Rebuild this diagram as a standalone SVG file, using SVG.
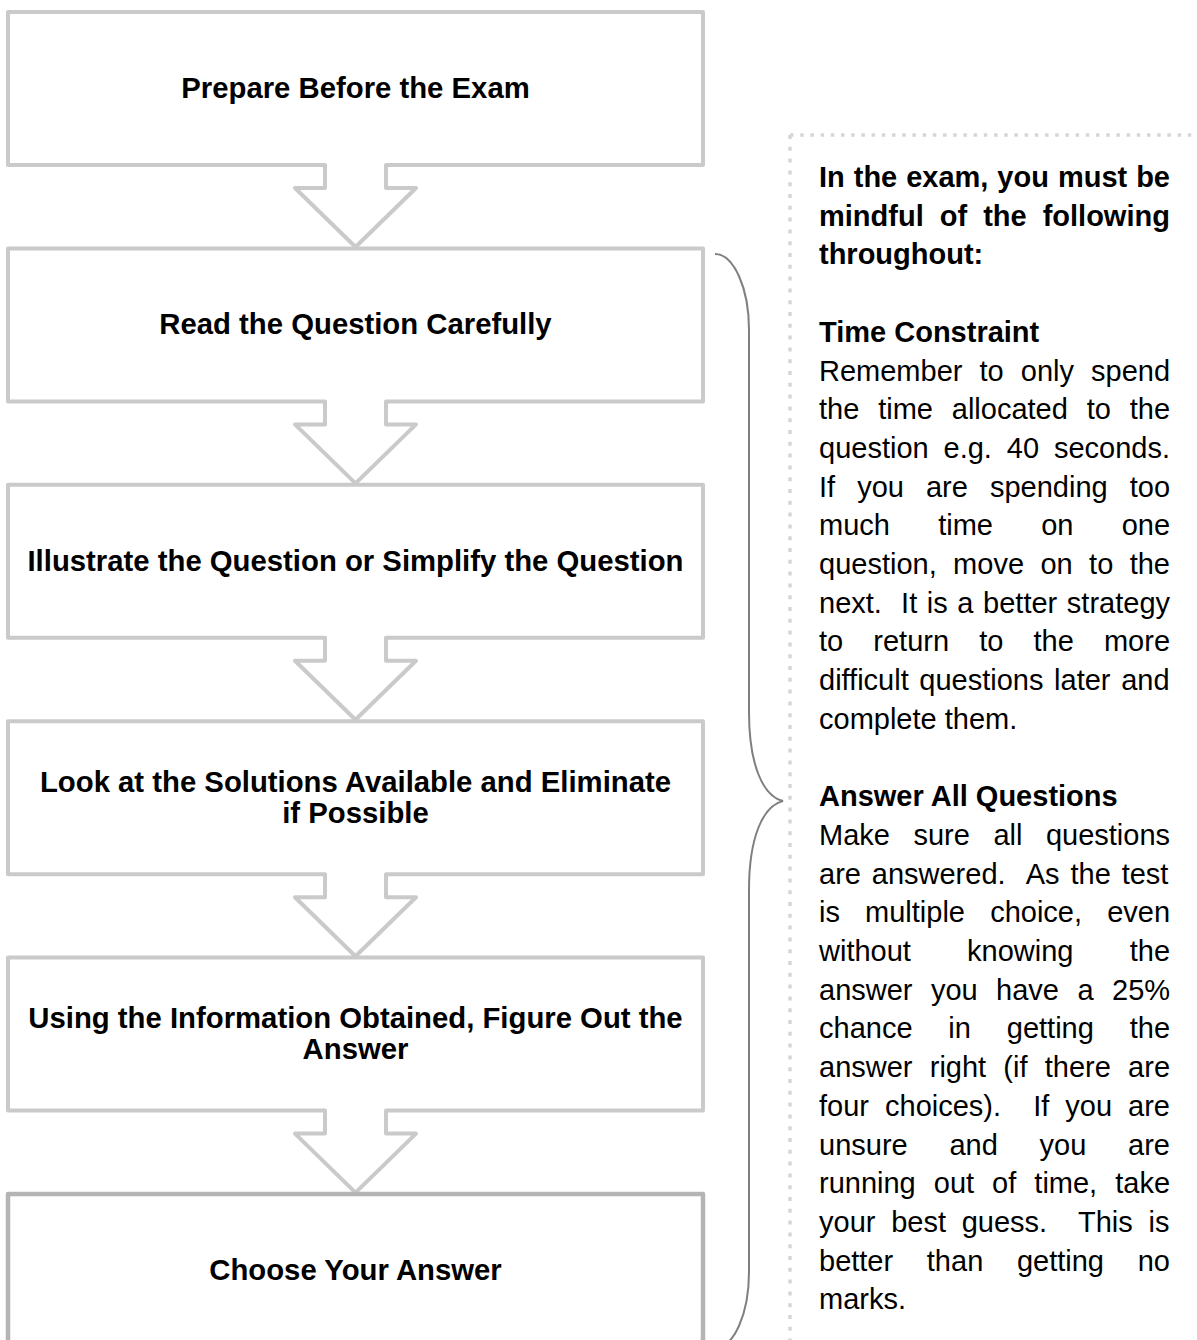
<svg xmlns="http://www.w3.org/2000/svg" width="1197" height="1340" viewBox="0 0 1197 1340">
<style>
.box{fill:#ffffff;stroke:#cacaca;stroke-width:4;stroke-linejoin:round;stroke-linecap:round}
.last{fill:#ffffff;stroke:#b4b4b4;stroke-width:4.5;stroke-linejoin:round}
.arr{fill:none;stroke:#cacaca;stroke-width:4;stroke-linejoin:round;stroke-linecap:round}
.lbl{font-family:"Liberation Sans",Arial,sans-serif;font-weight:bold;font-size:29.3px;fill:#000;text-anchor:middle}
.p{font-family:"Liberation Sans",Arial,sans-serif;font-size:29px;fill:#000;white-space:pre}
.b{font-weight:bold}
.dh{stroke:#d6d6d6;stroke-width:3.5;stroke-dasharray:3.5 6.7;fill:none}
.dv{stroke:#d6d6d6;stroke-width:3.5;stroke-dasharray:4 7.8;fill:none}
.brace{fill:none;stroke:#7f7f7f;stroke-width:2}
</style>
<rect width="1197" height="1340" fill="#ffffff"/>

<g id="connectors">
<path class="arr" d="M325,165 V188 H295 L355.5,247 L416,188 H386 V165"/>
<path class="arr" d="M325,401.4 V424.4 H295 L355.5,483.4 L416,424.4 H386 V401.4"/>
<path class="arr" d="M325,637.8 V660.8 H295 L355.5,719.8 L416,660.8 H386 V637.8"/>
<path class="arr" d="M325,874.2 V897.2 H295 L355.5,956.2 L416,897.2 H386 V874.2"/>
<path class="arr" d="M325,1110.6 V1133.6 H295 L355.5,1192.6 L416,1133.6 H386 V1110.6"/>
</g>

<g id="step1">
<path class="box" d="M325,165 H8 V12 H703 V165 H386"/>
<text class="lbl" x="355.5" y="98">Prepare Before the Exam</text>
</g>
<g id="step2">
<path class="box" d="M325,401.4 H8 V248.4 H703 V401.4 H386"/>
<text class="lbl" x="355.5" y="334.4">Read the Question Carefully</text>
</g>
<g id="step3">
<path class="box" d="M325,637.8 H8 V484.8 H703 V637.8 H386"/>
<text class="lbl" x="355.5" y="570.8">Illustrate the Question or Simplify the Question</text>
</g>
<g id="step4">
<path class="box" d="M325,874.2 H8 V721.2 H703 V874.2 H386"/>
<text class="lbl" x="355.5" y="791.5">Look at the Solutions Available and Eliminate</text>
<text class="lbl" x="355.5" y="822.5">if Possible</text>
</g>
<g id="step5">
<path class="box" d="M325,1110.6 H8 V957.6 H703 V1110.6 H386"/>
<text class="lbl" x="355.5" y="1028">Using the Information Obtained, Figure Out the</text>
<text class="lbl" x="355.5" y="1059">Answer</text>
</g>
<g id="step6">
<rect class="last" x="8" y="1194" width="695" height="153"/>
<text class="lbl" x="355.5" y="1280">Choose Your Answer</text>
</g>

<g id="brace">
<path class="brace" d="M715,254 A34,76 0 0 1 749,330 L749,712 C749,765 763,796 783,801 C763,806 749,837 749,890 L749,1272 A34,76 0 0 1 715,1348"/>
</g>

<g id="notes">
<path class="dh" d="M790,135 H1197"/>
<path class="dv" d="M790,135 V1340"/>
<text class="p b" x="819" y="187" style="word-spacing:0.9px">In the exam, you must be</text>
<text class="p b" x="819" y="225.7" style="word-spacing:7.97px">mindful of the following</text>
<text class="p b" x="819" y="264.4">throughout:</text>
<text class="p b" x="819" y="341.8">Time Constraint</text>
<text class="p" x="819" y="380.5" style="word-spacing:9.01px">Remember to only spend</text>
<text class="p" x="819" y="419.2" style="word-spacing:10.78px">the time allocated to the</text>
<text class="p" x="819" y="457.9" style="word-spacing:6.83px">question e.g. 40 seconds.</text>
<text class="p" x="819" y="496.6" style="word-spacing:14px">If you are spending too</text>
<text class="p" x="819" y="535.3" style="word-spacing:40.2px">much time on one</text>
<text class="p" x="819" y="574" style="word-spacing:8.35px">question, move on to the</text>
<text class="p" x="819" y="612.7" style="word-spacing:1.55px">next.  It is a better strategy</text>
<text class="p" x="819" y="651.4" style="word-spacing:22.07px">to return to the more</text>
<text class="p" x="819" y="690.1" style="word-spacing:2.56px">difficult questions later and</text>
<text class="p" x="819" y="728.8">complete them.</text>
<text class="p b" x="819" y="806.2">Answer All Questions</text>
<text class="p" x="819" y="844.9" style="word-spacing:15.47px">Make sure all questions</text>
<text class="p" x="819" y="883.6" style="word-spacing:2.82px">are answered.  As the test</text>
<text class="p" x="819" y="922.3" style="word-spacing:17.07px">is multiple choice, even</text>
<text class="p" x="819" y="961" style="word-spacing:48.15px">without knowing the</text>
<text class="p" x="819" y="999.7" style="word-spacing:10.38px">answer you have a 25%</text>
<text class="p" x="819" y="1038.4" style="word-spacing:27.8px">chance in getting the</text>
<text class="p" x="819" y="1077.1" style="word-spacing:9.18px">answer right (if there are</text>
<text class="p" x="819" y="1115.8" style="word-spacing:7.98px">four choices).  If you are</text>
<text class="p" x="819" y="1154.5" style="word-spacing:33.7px">unsure and you are</text>
<text class="p" x="819" y="1193.2" style="word-spacing:9.97px">running out of time, take</text>
<text class="p" x="819" y="1231.9" style="word-spacing:7.66px">your best guess.  This is</text>
<text class="p" x="819" y="1270.6" style="word-spacing:25.6px">better than getting no</text>
<text class="p" x="819" y="1309.3">marks.</text>
</g>
</svg>
